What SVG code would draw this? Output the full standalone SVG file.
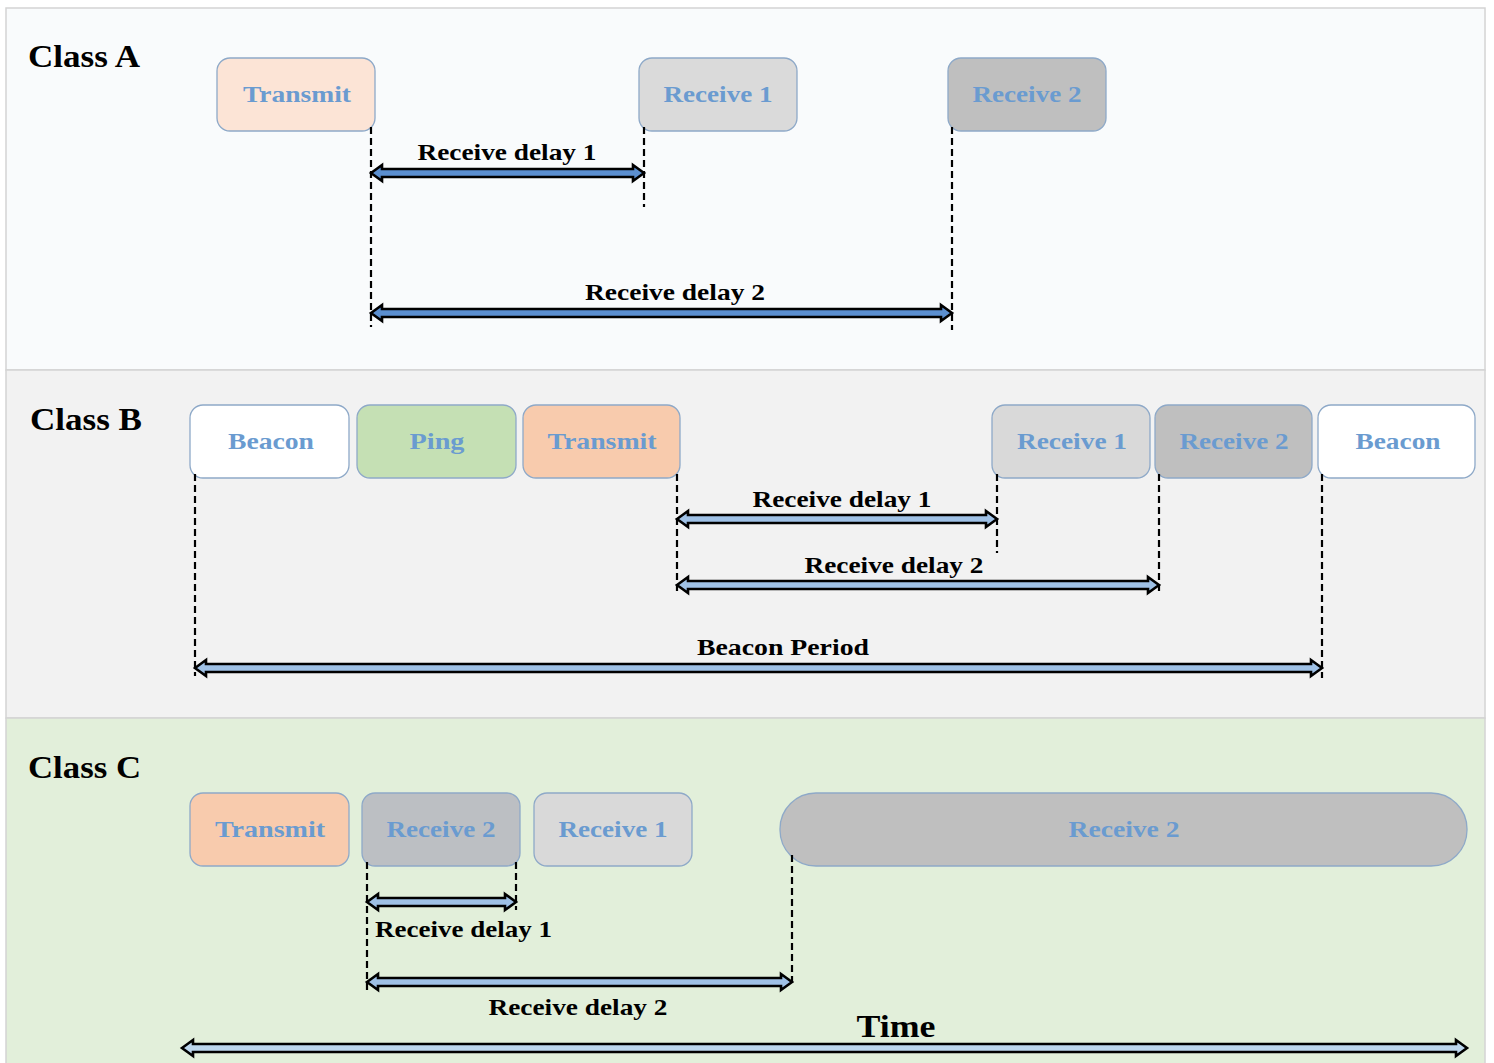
<svg xmlns="http://www.w3.org/2000/svg" width="1494" height="1063" viewBox="0 0 1494 1063">
<style>
.panel{stroke:#d4d4d4;stroke-width:1.5}
.box{stroke:#8ea9c8;stroke-width:1.3}
.bt{font-family:"Liberation Serif",serif;font-weight:bold;font-size:24px;fill:#6a9bd0;text-anchor:middle}
.cls{font-family:"Liberation Serif",serif;font-weight:bold;font-size:32px;fill:#000}
.lbl{font-family:"Liberation Serif",serif;font-weight:bold;font-size:23px;fill:#000;text-anchor:middle}
.dash{stroke:#000;stroke-width:2.2;stroke-dasharray:7,4;fill:none}
.arA{fill:#5b8fd0;stroke:#000;stroke-width:2.6;stroke-linejoin:miter}
.arB{fill:#9fc1e6;stroke:#000;stroke-width:2.6;stroke-linejoin:miter}
</style>
<rect width="1494" height="1063" fill="#ffffff"/>
<g id="panel-a"><rect class="panel" x="6" y="8" width="1479" height="362" fill="#f9fbfc"/><text class="cls" x="28" y="67" textLength="112" lengthAdjust="spacingAndGlyphs">Class A</text></g>
<g id="panel-b"><rect class="panel" x="6" y="370" width="1479" height="348" fill="#f2f2f2"/><text class="cls" x="30" y="430" textLength="112" lengthAdjust="spacingAndGlyphs">Class B</text></g>
<g id="panel-c"><rect class="panel" x="6" y="718" width="1479" height="350" fill="#e2efda"/><text class="cls" x="28" y="778" textLength="113" lengthAdjust="spacingAndGlyphs">Class C</text></g>

<g id="a-transmit"><rect class="box" x="217" y="58" width="158" height="73" rx="13" fill="#fce4d6"/><text class="bt" x="297" y="102" textLength="108" lengthAdjust="spacingAndGlyphs">Transmit</text></g>
<g id="a-receive1"><rect class="box" x="639" y="58" width="158" height="73" rx="13" fill="#dadada"/><text class="bt" x="718" y="102" textLength="109" lengthAdjust="spacingAndGlyphs">Receive 1</text></g>
<g id="a-receive2"><rect class="box" x="948" y="58" width="158" height="73" rx="13" fill="#bfbfbf"/><text class="bt" x="1027" y="102" textLength="109" lengthAdjust="spacingAndGlyphs">Receive 2</text></g>

<g id="b-beacon1"><rect class="box" x="190" y="405" width="159" height="73" rx="13" fill="#ffffff"/><text class="bt" x="271" y="449" textLength="86" lengthAdjust="spacingAndGlyphs">Beacon</text></g>
<g id="b-ping"><rect class="box" x="357" y="405" width="159" height="73" rx="13" fill="#c5e0b4"/><text class="bt" x="437" y="449" textLength="55" lengthAdjust="spacingAndGlyphs">Ping</text></g>
<g id="b-transmit"><rect class="box" x="523" y="405" width="157" height="73" rx="13" fill="#f8cbad"/><text class="bt" x="602" y="449" textLength="109" lengthAdjust="spacingAndGlyphs">Transmit</text></g>
<g id="b-receive1"><rect class="box" x="992" y="405" width="158" height="73" rx="13" fill="#d9d9d9"/><text class="bt" x="1072" y="449" textLength="110" lengthAdjust="spacingAndGlyphs">Receive 1</text></g>
<g id="b-receive2"><rect class="box" x="1155" y="405" width="157" height="73" rx="13" fill="#bfbfbf"/><text class="bt" x="1234" y="449" textLength="109" lengthAdjust="spacingAndGlyphs">Receive 2</text></g>
<g id="b-beacon2"><rect class="box" x="1318" y="405" width="157" height="73" rx="13" fill="#ffffff"/><text class="bt" x="1398" y="449" textLength="85" lengthAdjust="spacingAndGlyphs">Beacon</text></g>

<g id="c-transmit"><rect class="box" x="190" y="793" width="159" height="73" rx="13" fill="#f8cbad"/><text class="bt" x="270" y="837" textLength="110" lengthAdjust="spacingAndGlyphs">Transmit</text></g>
<g id="c-receive2a"><rect class="box" x="362" y="793" width="158" height="73" rx="13" fill="#bcbfc3"/><text class="bt" x="441" y="837" textLength="109" lengthAdjust="spacingAndGlyphs">Receive 2</text></g>
<g id="c-receive1"><rect class="box" x="534" y="793" width="158" height="73" rx="13" fill="#d9d9d9"/><text class="bt" x="613" y="837" textLength="109" lengthAdjust="spacingAndGlyphs">Receive 1</text></g>
<g id="c-receive2b"><rect class="box" x="780" y="793" width="687" height="73" rx="36" fill="#bfbfbf"/><text class="bt" x="1124" y="837" textLength="111" lengthAdjust="spacingAndGlyphs">Receive 2</text></g>

<g id="connectors">
<path class="dash" d="M371 127V327M644 127V207M952 127V330"/>
<path class="arA" d="M371 173L382 165L382 169L633 169L633 165L644 173L633 181L633 177L382 177L382 181Z"/>
<text class="lbl" x="507" y="160" textLength="179" lengthAdjust="spacingAndGlyphs">Receive delay 1</text>
<path class="arA" d="M371 313L382 305L382 309L941 309L941 305L952 313L941 321L941 317L382 317L382 321Z"/>
<text class="lbl" x="675" y="300" textLength="180" lengthAdjust="spacingAndGlyphs">Receive delay 2</text>

<path class="dash" d="M195 474V676M677 474V592M997 474V553M1159 474V592M1322 474V678"/>
<path class="arB" d="M677 519L688 511L688 515L986 515L986 511L997 519L986 527L986 523L688 523L688 527Z"/>
<text class="lbl" x="842" y="507" textLength="179" lengthAdjust="spacingAndGlyphs">Receive delay 1</text>
<path class="arB" d="M677 585L688 577L688 581L1148 581L1148 577L1159 585L1148 593L1148 589L688 589L688 593Z"/>
<text class="lbl" x="894" y="573" textLength="179" lengthAdjust="spacingAndGlyphs">Receive delay 2</text>
<path class="arB" d="M195 668L206 660L206 664L1311 664L1311 660L1322 668L1311 676L1311 672L206 672L206 676Z"/>
<text class="lbl" x="783" y="655" textLength="172" lengthAdjust="spacingAndGlyphs">Beacon Period</text>

<path class="dash" d="M367 862V990M516 862V910M792 855V985"/>
<path class="arB" d="M367 902L378 894L378 898L505 898L505 894L516 902L505 910L505 906L378 906L378 910Z"/>
<text class="lbl" x="375" y="937" style="text-anchor:start" textLength="177" lengthAdjust="spacingAndGlyphs">Receive delay 1</text>
<path class="arB" d="M367 982L378 974L378 978L781 978L781 974L792 982L781 990L781 986L378 986L378 990Z"/>
<text class="lbl" x="578" y="1015" textLength="179" lengthAdjust="spacingAndGlyphs">Receive delay 2</text>
<path class="arB" d="M182 1048L193 1040L193 1044L1456 1044L1456 1040L1467 1048L1456 1056L1456 1052L193 1052L193 1056Z" style="fill:#bdd7ee"/>
<text class="lbl" x="896" y="1037" style="font-size:31px" textLength="79" lengthAdjust="spacingAndGlyphs">Time</text>
</g>
</svg>
